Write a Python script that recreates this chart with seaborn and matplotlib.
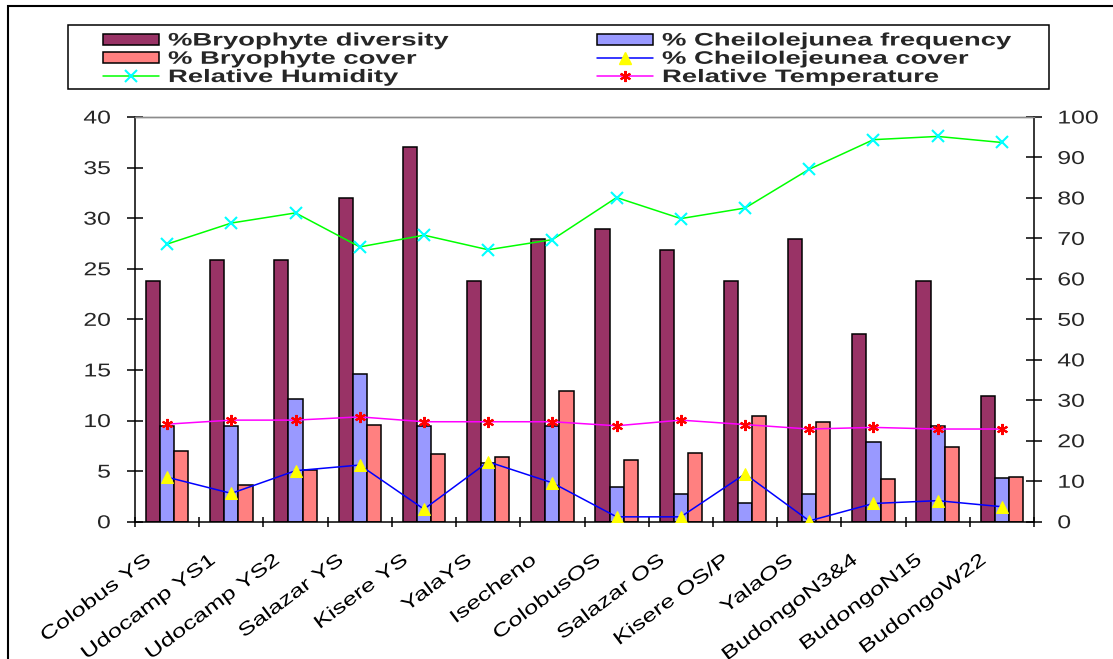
import numpy as np
import pandas as pd
import matplotlib
matplotlib.use("Agg")
import matplotlib.pyplot as plt
import seaborn as sns
from matplotlib.patheffects import AbstractPathEffect
from matplotlib.transforms import Affine2D, ScaledTranslation
from matplotlib.patches import Rectangle, Patch
from matplotlib.lines import Line2D
from matplotlib.font_manager import FontProperties

# ---- data -----------------------------------------------------------------
sites = ["Colobus YS", "Udocamp YS1", "Udocamp YS2", "Salazar YS", "Kisere YS",
         "YalaYS", "Isecheno", "ColobusOS", "Salazar OS", "Kisere OS/P",
         "YalaOS", "BudongoN3&4", "BudongoN15", "BudongoW22"]

bryo_diversity = [23.8, 25.9, 25.9, 32.0, 37.0, 23.8, 27.9, 28.9, 26.9, 23.8, 27.9, 18.6, 23.8, 12.4]
cheilo_frequency = [9.5, 9.5, 12.1, 14.6, 9.5, 5.8, 9.5, 3.4, 2.7, 1.8, 2.7, 7.9, 9.5, 4.3]
bryo_cover = [7.0, 3.6, 5.1, 9.6, 6.7, 6.4, 12.9, 6.1, 6.8, 10.4, 9.9, 4.2, 7.4, 4.4]

cheilo_cover = [11.0, 7.0, 12.6, 14.0, 3.1, 14.8, 9.6, 1.2, 1.2, 11.8, 0.2, 4.5, 5.2, 3.7]
rel_humidity = [68.6, 73.8, 76.3, 67.9, 70.8, 67.2, 69.7, 80.1, 74.9, 77.5, 87.1, 94.4, 95.2, 93.7]
rel_temperature = [24.1, 25.1, 25.1, 25.9, 24.7, 24.7, 24.7, 23.7, 25.1, 24.0, 22.9, 23.3, 22.9, 22.9]

left_ticks = list(range(0, 41, 5))
right_ticks = list(range(0, 101, 10))

bar_series = ["%Bryophyte diversity", "% Cheilolejunea frequency", "% Bryophyte cover"]
bar_colors = ["#993366", "#9999FF", "#FF8080"]


class Widen(AbstractPathEffect):
    """Stretch glyphs along the text direction about a chosen end."""

    def __init__(self, sx, anchor="left"):
        super().__init__()
        self.sx = sx
        self.anchor = anchor

    def draw_path(self, renderer, gc, tpath, affine, rgbFace=None):
        v = tpath.vertices
        x0 = 0.0
        if len(v):
            if self.anchor == "right":
                x0 = v[:, 0].max()
            elif self.anchor == "center":
                x0 = 0.5 * (v[:, 0].min() + v[:, 0].max())
        t = Affine2D().translate(-x0, 0).scale(self.sx, 1).translate(x0, 0) + affine
        renderer.draw_path(gc, tpath, t, rgbFace)


sns.set_theme(style="white")
plt.rcParams["font.family"] = ["Liberation Sans", "DejaVu Sans"]

W, H = 1113, 659
fig = plt.figure(figsize=(W / 100, H / 100), dpi=100)
ax = fig.add_axes([135 / W, 1 - 521.7 / H, (1034 - 135) / W, (521.7 - 117) / H])

bars = pd.DataFrame({"site": sites,
                     bar_series[0]: bryo_diversity,
                     bar_series[1]: cheilo_frequency,
                     bar_series[2]: bryo_cover})
bars_long = bars.melt(id_vars="site", var_name="series", value_name="value")

sns.barplot(data=bars_long, x="site", y="value", hue="series", order=sites,
            hue_order=bar_series, palette=bar_colors, saturation=1, width=0.66,
            edgecolor="black", linewidth=1.1, errorbar=None, legend=False, ax=ax)

ax.set_xlim(-0.5, len(sites) - 0.5)
ax.set_ylim(0, 40)
ax.set_yticks(left_ticks)
ax.set_yticklabels([str(t) for t in left_ticks])
ax.set_xlabel("")
ax.set_ylabel("")

# secondary axis with the line series
ax2 = ax.twinx()
pos = np.arange(len(sites))
sns.lineplot(x=pos, y=cheilo_cover, ax=ax2, color="#0000FF", linewidth=1.1,
             marker="^", markersize=8.5, markerfacecolor="#FFFF00",
             markeredgecolor="#FFFF00", errorbar=None, legend=False)
sns.lineplot(x=pos, y=rel_humidity, ax=ax2, color="#00FF00", linewidth=1.1,
             marker="x", markersize=8, markeredgecolor="#00FFFF",
             markeredgewidth=1.5, errorbar=None, legend=False)
sns.lineplot(x=pos, y=rel_temperature, ax=ax2, color="#FF00FF", linewidth=1.1,
             marker=(6, 2, 0), markersize=8, markeredgecolor="#FF0000",
             markeredgewidth=1.5, errorbar=None, legend=False)
ax2.set_ylim(0, 100)
ax2.set_yticks(right_ticks)
ax2.set_yticklabels([str(t) for t in right_ticks])
ax2.set_ylabel("")
ax2.set_xlim(-0.5, len(sites) - 0.5)

# spines
for a in (ax, ax2):
    for s in a.spines.values():
        s.set_color("black")
        s.set_linewidth(1.1)
    a.spines["top"].set_color("#8C8C8C")
    a.spines["top"].set_linewidth(1.0)
    a.grid(False)
ax.spines["right"].set_visible(False)
ax2.spines["left"].set_visible(False)
ax2.spines["bottom"].set_visible(False)

# category boundaries carry the tick marks, centres carry the names
ax.set_xticks(np.arange(-0.5, len(sites), 1.0))
ax.set_xticklabels([])
ax.set_xticks(pos, minor=True)
ax.set_xticklabels(sites, minor=True, rotation=37, ha="right", va="center",
                   rotation_mode="anchor", fontsize=13.4, color="black")
ax.tick_params(axis="x", which="major", direction="inout", length=7.7, width=1.1,
               color="black", bottom=True)
ax.tick_params(axis="x", which="minor", length=0, pad=26.6, bottom=True)
ax.tick_params(axis="y", direction="inout", length=12, width=1.1, color="black",
               labelsize=13.4, pad=11.5, left=True)
ax2.tick_params(axis="y", direction="inout", length=12, width=1.1, color="black",
                labelsize=13.4, pad=10.8, right=True)

shift = ScaledTranslation(-18 / 100, 0, fig.dpi_scale_trans)
for lab in ax.get_xticklabels(minor=True):
    lab.set_transform(lab.get_transform() + shift)
    lab.set_path_effects([Widen(1.36, "right")])
for lab in ax.get_yticklabels():
    lab.set_path_effects([Widen(1.33, "right")])
for lab in ax2.get_yticklabels():
    lab.set_path_effects([Widen(1.33, "left")])

# legend in two columns
h_div = Patch(facecolor=bar_colors[0], edgecolor="black", linewidth=1.1)
h_freq = Patch(facecolor=bar_colors[1], edgecolor="black", linewidth=1.1)
h_cov = Patch(facecolor=bar_colors[2], edgecolor="black", linewidth=1.1)
h_ccov = Line2D([], [], color="#0000FF", linewidth=1.1, marker="^", markersize=8.5,
                markerfacecolor="#FFFF00", markeredgecolor="#FFFF00")
h_hum = Line2D([], [], color="#00FF00", linewidth=1.1, marker="x", markersize=8,
               markeredgecolor="#00FFFF", markeredgewidth=1.5)
h_tmp = Line2D([], [], color="#FF00FF", linewidth=1.1, marker=(6, 2, 0), markersize=8,
               markeredgecolor="#FF0000", markeredgewidth=1.5)

leg_font = FontProperties(family="Liberation Sans", weight="bold", size=13)
leg_kw = dict(loc="upper left", frameon=False, borderpad=0, borderaxespad=0,
              handlelength=3.1, handleheight=0.56, handletextpad=0.5,
              labelspacing=0.07, prop=leg_font, numpoints=1)
leg1 = fig.legend(handles=[h_div, h_cov, h_hum],
                  labels=["%Bryophyte diversity", "% Bryophyte cover", "Relative Humidity"],
                  bbox_to_anchor=(103 / W, 1 - 32.5 / H), **leg_kw)
leg2 = fig.legend(handles=[h_freq, h_ccov, h_tmp],
                  labels=["% Cheilolejunea frequency", "% Cheilolejeunea cover",
                          "Relative Temperature"],
                  bbox_to_anchor=(597 / W, 1 - 32.5 / H), **leg_kw)
for lg in (leg1, leg2):
    for t in lg.get_texts():
        t.set_path_effects([Widen(1.52, "left")])

fig.add_artist(Rectangle((68 / W, 1 - 89 / H), (1049 - 68) / W, 64 / H,
                         transform=fig.transFigure, fill=False,
                         edgecolor="black", linewidth=1.1))
fig.add_artist(Rectangle((8 / W, -0.05), 1.2, 1.05 - 6 / H,
                         transform=fig.transFigure, fill=False,
                         edgecolor="black", linewidth=1.5, clip_on=False))

fig.savefig("out.png", dpi=100, facecolor="white")
